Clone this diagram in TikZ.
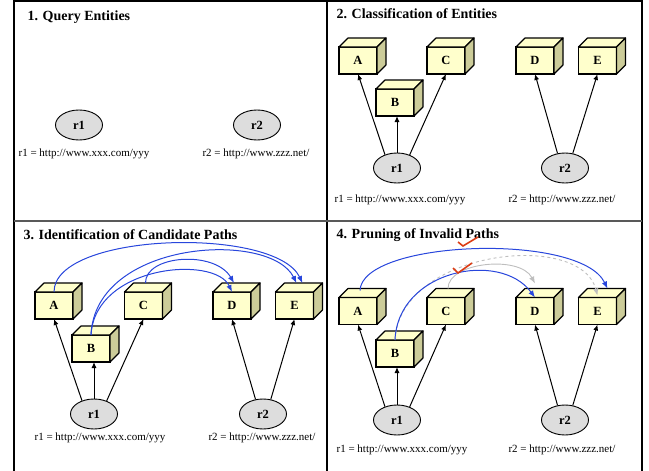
\documentclass[tikz,border=0pt]{standalone}
\usepackage{fontspec}
\setmainfont{Liberation Serif}
\usetikzlibrary{arrows.meta, shapes.geometric, calc}

\definecolor{cubefront}{RGB}{255,255,204}
\definecolor{cubeside}{RGB}{204,204,153}
\definecolor{entgray}{RGB}{221,221,221}
\definecolor{pathblue}{RGB}{40,70,220}
\definecolor{prunegray}{RGB}{190,190,190}
\definecolor{checkred}{RGB}{220,60,20}

\tikzset{
	cube/.style={draw, line width=1.2pt, fill=cubefront, minimum width=38pt, minimum height=27pt, inner sep=0pt, outer sep=0pt, font=\fontsize{12.5}{14}\selectfont\bfseries},
	ent/.style={draw, ellipse, line width=0.9pt, fill=entgray, minimum width=47pt, minimum height=30pt, inner sep=0pt, font=\fontsize{12.5}{14}\selectfont\bfseries},
	urltext/.style={font=\fontsize{11}{13}\selectfont},
	paneltitle/.style={anchor=west, font=\fontsize{14}{16}\selectfont\bfseries},
	link/.style={line width=1pt, -{Latex[length=6pt,width=5pt]}},
	cand/.style={pathblue, line width=1pt, -{Latex[length=7pt,width=5.5pt]}},
	pruned/.style={prunegray, line width=0.9pt, -{Latex[length=7pt,width=5.5pt]}},
	redcheck/.style={checkred, line width=1.6pt}
}

\begin{document}
\begin{tikzpicture}[x=1pt, y=-1pt]
	\useasboundingbox (0,0) rectangle (649,471);
	% frame
	\draw[line width=2.5pt] (14,471) -- (14,1.2) -- (642,1.2) -- (642,471);
	\draw[line width=1.2pt] (327,0) -- (327,471);
	\draw[line width=2pt, gray!70!black] (14,221) -- (642,221);

	% 1. query entities
	\node[paneltitle] (t1) at (24,17) {1. Query Entities};
	\node[ent] (r1q1) at (79,125) {r1}; \node[ent] (r2q1) at (257,125) {r2};
	\node[urltext] (u1q1) at (84,154) {r1 = http://www.xxx.com/yyy}; \node[urltext] (u2q1) at (256,154) {r2 = http://www.zzz.net/};

	% 2. classification
	\node[paneltitle] (t2) at (333,14) {2. Classification of Entities};
	\node[cube] (Aq2) at (358,60.5) {A}; \node[cube] (Bq2) at (395,102.5) {B}; \node[cube] (Cq2) at (446,60.5) {C}; \node[cube] (Dq2) at (535,60.5) {D}; \node[cube] (Eq2) at (597.5,60.5) {E};
	\node[ent] (r1q2) at (397,168) {r1}; \node[ent] (r2q2) at (565,168) {r2};
	\node[urltext] (u1q2) at (400,200) {r1 = http://www.xxx.com/yyy}; \node[urltext] (u2q2) at (562,200) {r2 = http://www.zzz.net/};

	% 3. candidate paths
	\node[paneltitle] (t3) at (20,235) {3. Identification of Candidate Paths};
	\node[cube] (Aq3) at (54,305.5) {A}; \node[cube] (Bq3) at (91,348.5) {B}; \node[cube] (Cq3) at (143.5,305.5) {C}; \node[cube] (Dq3) at (232,305.5) {D}; \node[cube] (Eq3) at (294.5,305.5) {E};
	\node[ent] (r1q3) at (94,414) {r1}; \node[ent] (r2q3) at (263,414) {r2};
	\node[urltext] (u1q3) at (100,438) {r1 = http://www.xxx.com/yyy}; \node[urltext] (u2q3) at (262,438) {r2 = http://www.zzz.net/};

	% 4. pruning
	\node[paneltitle] (t4) at (333,235) {4. Pruning of Invalid Paths};
	\node[cube] (Aq4) at (358,311) {A}; \node[cube] (Bq4) at (395,353.5) {B}; \node[cube] (Cq4) at (446,311) {C}; \node[cube] (Dq4) at (535,311) {D}; \node[cube] (Eq4) at (597.5,311) {E};
	\node[ent] (r1q4) at (397,420) {r1}; \node[ent] (r2q4) at (565,420) {r2};
	\node[urltext] (u1q4) at (402,450) {r1 = http://www.xxx.com/yyy}; \node[urltext] (u2q4) at (562,450) {r2 = http://www.zzz.net/};

	% top and side faces of the cubes
	\foreach \n in {Aq2,Bq2,Cq2,Dq2,Eq2,Aq3,Bq3,Cq3,Dq3,Eq3,Aq4,Bq4,Cq4,Dq4,Eq4} {
		\draw[line width=1.2pt, line join=round, fill=cubefront] (\n.north west) -- ++(9,-9) -- ++(38,0) -- (\n.north east) -- cycle;
		\draw[line width=1.2pt, line join=round, fill=cubeside] (\n.north east) -- ++(9,-9) -- ++(0,27) -- (\n.south east) -- cycle;
	}

	% entity -> class links
	\foreach \q in {2,3,4} {
		\draw[link] (r1q\q.132) -- (Aq\q.south); \draw[link] (r1q\q.north) -- (r1q\q.north |- Bq\q.south); \draw[link] (r1q\q.46) -- (Cq\q.south);
		\draw[link] (r2q\q.117) -- (Dq\q.south); \draw[link] (r2q\q.62) -- (Eq\q.south);
	}

	% candidate paths
	\draw[cand] (Aq3.north) .. controls (54,232) and (275,226) .. ($(Eq3.north)+(8,-9)$);
	\draw[cand] (Bq3.north) .. controls (95,240) and (270,230) .. ($(Eq3.north)+(2,-9)$);
	\draw[cand] (Bq3.north) .. controls (95,265) and (215,255) .. (Dq3.north);
	\draw[cand] ($(Cq3.north)+(2,-9)$) .. controls (145,255) and (215,250) .. ($(Dq3.north)+(2,-9)$);

	% pruned paths
	\draw[pruned] ($(Cq4.north)+(2,-9)$) .. controls (448,262) and (520,255) .. ($(Dq4.north)+(0,-14)$);
	\draw[pruned, dashed] (Bq4.north) .. controls (400,250) and (580,230) .. ($(Eq4.north)+(0,-2)$);
	\draw[cand] ($(Aq4.north)+(2,-7)$) .. controls (362,240) and (580,232) .. ($(Eq4.north)+(10,-9)$);
	\draw[cand] (Bq4.north) .. controls (398,270) and (500,250) .. (Dq4.north);
	\draw[redcheck] (458,242) -- (463,246) -- (478,237);
	\draw[redcheck] (453,268) -- (458,273) -- (472,263);
\end{tikzpicture}
\end{document}
